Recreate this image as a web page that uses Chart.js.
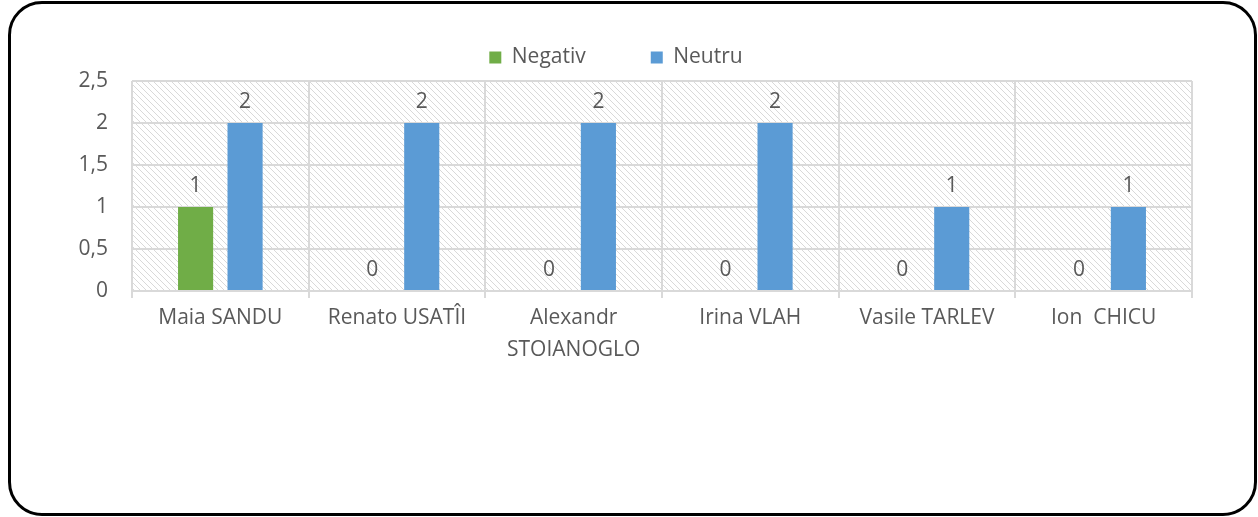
<!DOCTYPE html>
<html>
<head>
<meta charset="utf-8">
<script src="https://cdn.jsdelivr.net/npm/chart.js@4"></script>
<style>
  html, body { margin: 0; padding: 0; background: #fff; }
  #frame {
    position: absolute; left: 8px; top: 1px; width: 1249px; height: 515px;
    box-sizing: border-box; border: 3px solid #000; border-radius: 34px;
    pointer-events: none;
  }
  #chartCanvas { position: absolute; left: 0; top: 0; }
</style>
</head>
<body>
<canvas id="chartCanvas" width="1258" height="517"></canvas>
<div id="frame"></div>
<script>
const candidates = ["Maia SANDU", "Renato USATÎI", ["Alexandr", "STOIANOGLO"], "Irina VLAH", "Vasile TARLEV", "Ion  CHICU"];
const negativ = [1, 0, 0, 0, 0, 0];
const neutru = [2, 2, 2, 2, 1, 1];
const yTicks = ["0", "0,5", "1", "1,5", "2", "2,5"];

const textColor = "#595959";
const fontFamily = "'Open Sans', Lato, sans-serif";
const fontSize = 21;

// hatched background like Excel's light downward diagonal
function hatchPattern() {
  const c = document.createElement("canvas");
  c.width = 6; c.height = 6;
  const g = c.getContext("2d");
  g.fillStyle = "#fff";
  g.fillRect(0, 0, 6, 6);
  g.strokeStyle = "#d9d9d9";
  g.lineWidth = 1;
  g.beginPath();
  g.moveTo(-1, -1); g.lineTo(7, 7);
  g.moveTo(-1, 5); g.lineTo(1, 7);
  g.moveTo(5, -1); g.lineTo(7, 1);
  g.stroke();
  return g.createPattern(c, "repeat");
}

const hatchPlugin = {
  id: "hatch",
  afterLayout(chart) {
    // nudge the legend up a little
    chart.legend.top -= 3;
    chart.legend.bottom -= 3;
  },
  beforeDraw(chart) {
    const a = chart.chartArea;
    const ctx = chart.ctx;
    ctx.save();
    ctx.fillStyle = hatchPattern();
    ctx.fillRect(a.left, a.top, a.right - a.left, a.bottom - a.top);
    ctx.restore();
  }
};

const valueLabels = {
  id: "valueLabels",
  afterDatasetsDraw(chart) {
    const ctx = chart.ctx;
    ctx.save();
    ctx.fillStyle = textColor;
    ctx.font = fontSize + "px " + fontFamily;
    ctx.textAlign = "center";
    ctx.textBaseline = "middle";
    chart.data.datasets.forEach((ds, i) => {
      chart.getDatasetMeta(i).data.forEach((bar, j) => {
        ctx.fillText(String(ds.data[j]), bar.x, bar.y - 21);
      });
    });
    ctx.restore();
  }
};

const ctx = document.getElementById("chartCanvas").getContext("2d");
const chart = new Chart(ctx, {
  type: "bar",
  data: {
    labels: candidates,
    datasets: [
      { label: "Negativ", data: negativ, backgroundColor: "#70ad47" },
      { label: "Neutru", data: neutru, backgroundColor: "#5b9bd5" }
    ]
  },
  options: {
    responsive: false,
    animation: false,
    datasets: { bar: { categoryPercentage: 0.56, barPercentage: 0.71 } },
    layout: { padding: { left: 40, right: 66, top: -15, bottom: 60 } },
    plugins: {
      legend: {
        position: "top",
        labels: {
          boxWidth: 12, boxHeight: 12, padding: 65,
          color: textColor,
          font: { family: fontFamily, size: fontSize }
        }
      },
      tooltip: { enabled: false }
    },
    scales: {
      x: {
        grid: { color: "#d9d9d9", lineWidth: 2, tickLength: 7, offset: true },
        border: { color: "#d9d9d9", width: 2 },
        ticks: { color: textColor, font: { family: fontFamily, size: fontSize, lineHeight: 1.52 }, padding: 4, maxRotation: 0, autoSkip: false },
        afterFit(scale) { scale.height = 166; }
      },
      y: {
        min: 0, max: 2.5,
        grid: { color: "#d9d9d9", lineWidth: 2, drawTicks: false },
        border: { display: false },
        ticks: {
          stepSize: 0.5, padding: 24, color: textColor,
          font: { family: fontFamily, size: fontSize },
          callback: (v, i) => yTicks[i]
        },
        afterFit(scale) { scale.width = 92; }
      }
    }
  },
  plugins: [hatchPlugin, valueLabels]
});
</script>
</body>
</html>
